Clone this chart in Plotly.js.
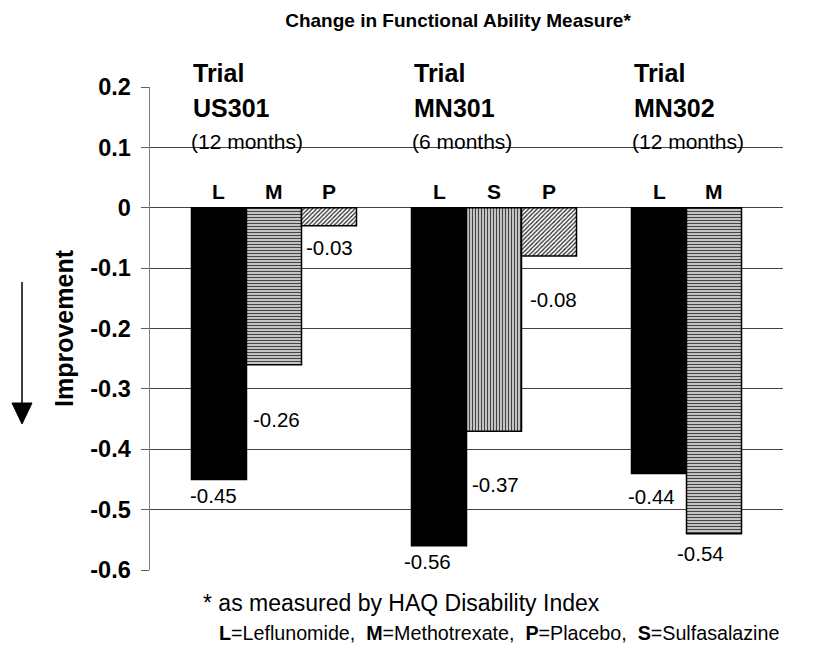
<!DOCTYPE html>
<html>
<head>
<meta charset="utf-8">
<script src="https://cdn.plot.ly/plotly-3.0.1.min.js"></script>
<style>html,body{margin:0;padding:0;background:#fff;}#chart{width:830px;height:646px;}</style>
</head>
<body>
<div id="chart"></div>
<script>
// ---- data ----
const trials = ['US301', 'MN301', 'MN302'];
const durations = ['(12 months)', '(6 months)', '(12 months)'];
const leflunomide = [-0.45, -0.56, -0.44];
const methotrexate = [-0.26, null, -0.54];
const sulfasalazine = [null, -0.37, null];
const placebo = [-0.03, -0.08, null];
const tickValues = [0.2, 0.1, 0, -0.1, -0.2, -0.3, -0.4, -0.5, -0.6];
const tickLabels = ['0.2', '0.1', '0', '-0.1', '-0.2', '-0.3', '-0.4', '-0.5', '-0.6'];
const chartTitle = 'Change in Functional Ability Measure*';
const yTitle = 'Improvement';
const footnote1 = '* as measured by HAQ Disability Index';
const footnote2 = '<b>L</b>=Leflunomide,\u00a0 <b>M</b>=Methotrexate,\u00a0 <b>P</b>=Placebo,\u00a0 <b>S</b>=Sulfasalazine';

// ---- layout helpers ----
const W = 830, H = 646;
const M = {l: 150, r: 47, t: 87, b: 76};
const PW = W - M.l - M.r, PH = H - M.t - M.b;
const px = x => (x - M.l) / PW;
const py = y => (H - M.b - y) / PH;
const FONT = 'Arial, "Liberation Sans", sans-serif';
const slotW = 0.25;
const slotOff = [-slotW, 0, slotW];

const series = [
  {name: 'L', letter: 'L', vals: leflunomide, slot: 0, color: '#000', pattern: null},
  {name: 'M', letter: 'M', vals: methotrexate, slot: 1, color: '#fff',
   pattern: {shape: '-', fgcolor: '#444444', bgcolor: '#ffffff', size: 3, solidity: 0.55}},
  {name: 'S', letter: 'S', vals: sulfasalazine, slot: 1, color: '#fff',
   pattern: {shape: '|', fgcolor: '#444444', bgcolor: '#ffffff', size: 3, solidity: 0.55}},
  {name: 'P', letter: 'P', vals: placebo, slot: 2, color: '#fff',
   pattern: {shape: '/', fgcolor: '#222222', bgcolor: '#ffffff', size: 3, solidity: 0.4}}
];

const traces = series.map(s => {
  const m = {color: s.color, line: {color: '#000', width: 1.5}};
  if (s.pattern) m.pattern = Object.assign({fillmode: 'replace'}, s.pattern);
  return {
    type: 'bar', x: trials, y: s.vals, name: s.name,
    offsetgroup: String(s.slot), marker: m, showlegend: false, hoverinfo: 'skip'
  };
});

// label offsets (pixels) per series/trial: [xshift, yshift]
const labelShift = {
  L: [[-5, -16], [-12, -16], [-8, -23]],
  M: [[2, -55], null, [-14, -20]],
  S: [null, [1, -53], null],
  P: [[0, -22], [4, -43], null]
};

const annotations = [];
series.forEach(s => {
  s.vals.forEach((v, i) => {
    if (v === null) return;
    const xv = i + slotOff[s.slot];
    annotations.push({x: xv, y: 0, xref: 'x', yref: 'y', text: '<b>' + s.letter + '</b>',
      yanchor: 'middle', showarrow: false, yshift: 16, font: {family: FONT, size: 21, color: '#000'}});
    const sh = labelShift[s.name][i];
    annotations.push({x: xv, y: v, xref: 'x', yref: 'y', text: v.toFixed(2), yanchor: 'middle',
      showarrow: false, xshift: sh[0], yshift: sh[1], font: {family: FONT, size: 20.5, color: '#000'}});
  });
});

trials.forEach((t, i) => {
  const xl = i - 1.5 * slotW;
  annotations.push({x: xl, y: 0.2, xref: 'x', yref: 'y', text: '<b>Trial</b>', xanchor: 'left',
    yanchor: 'middle', showarrow: false, xshift: 0, yshift: 14, font: {family: FONT, size: 25, color: '#000'}});
  annotations.push({x: xl, y: 0.2, xref: 'x', yref: 'y', text: '<b>' + t + '</b>', xanchor: 'left',
    yanchor: 'middle', showarrow: false, xshift: 0, yshift: -21, font: {family: FONT, size: 25, color: '#000'}});
  annotations.push({x: xl, y: 0.2, xref: 'x', yref: 'y', text: durations[i], xanchor: 'left',
    yanchor: 'middle', showarrow: false, xshift: -2, yshift: -54, font: {family: FONT, size: 21, color: '#000'}});
});

annotations.push({x: px(64), y: py(328), xref: 'paper', yref: 'paper', text: '<b>' + yTitle + '</b>',
  xanchor: 'center', yanchor: 'middle',
  textangle: -90, showarrow: false, font: {family: FONT, size: 25, color: '#000'}});
annotations.push({x: px(201), y: py(603), xref: 'paper', yref: 'paper', text: footnote1,
  xanchor: 'left', yanchor: 'middle', showarrow: false, font: {family: FONT, size: 23, color: '#000'}});
annotations.push({x: px(217), y: py(633), xref: 'paper', yref: 'paper', text: footnote2,
  xanchor: 'left', yanchor: 'middle', showarrow: false, font: {family: FONT, size: 19.7, color: '#000'}});

const shapes = [
  {type: 'line', xref: 'paper', yref: 'paper', x0: px(22), x1: px(22), y0: py(282), y1: py(406),
   line: {color: '#000', width: 1.5}},
  {type: 'path', xref: 'paper', yref: 'paper',
   path: `M ${px(12)} ${py(403)} L ${px(32)} ${py(403)} L ${px(22)} ${py(424)} Z`,
   fillcolor: '#000', line: {color: '#000', width: 1}}
];

const layout = {
  width: W, height: H,
  margin: M,
  paper_bgcolor: '#fff', plot_bgcolor: '#fff',
  barmode: 'group', bargap: 0.25, bargroupgap: 0,
  title: {text: '<b>' + chartTitle + '</b>', x: 458 / W, xanchor: 'center', y: 1 - 20 / H, yanchor: 'middle',
    font: {family: FONT, size: 19, color: '#000'}},
  xaxis: {type: 'category', range: [-0.5636, 2.3136], showgrid: false, zeroline: false,
    showline: false, showticklabels: false, ticks: '', fixedrange: true},
  yaxis: {range: [-0.6, 0.2], tickvals: tickValues, ticktext: tickLabels, showgrid: true,
    gridcolor: '#444', gridwidth: 1, zeroline: false, showline: true, linecolor: '#808080',
    linewidth: 1.5, ticks: 'outside', ticklen: 8, tickcolor: '#606060', tickwidth: 1,
    ticklabelstandoff: 5,
    tickfont: {family: FONT, size: 23.5, color: '#000', weight: 'bold'}, fixedrange: true},
  annotations: annotations,
  shapes: shapes,
  font: {family: FONT}
};

Plotly.newPlot('chart', traces, layout, {displayModeBar: false, staticPlot: true});
</script>
</body>
</html>
